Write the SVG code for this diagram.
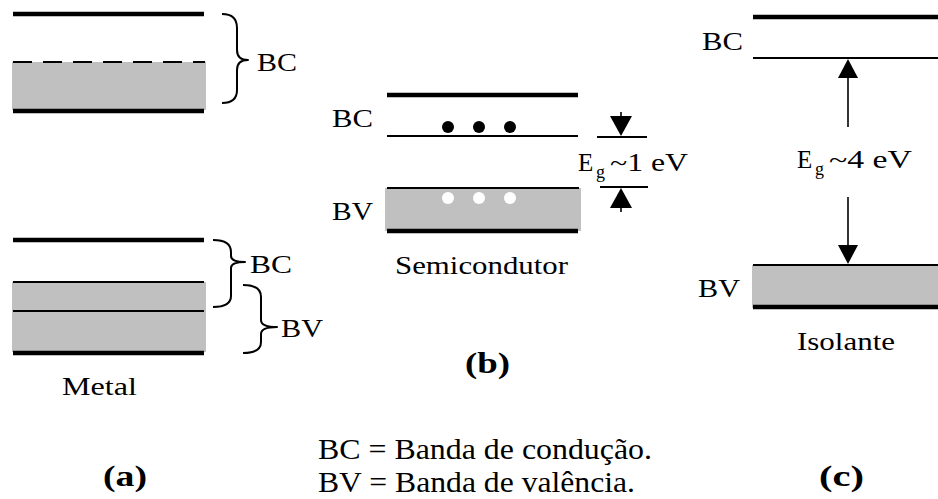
<svg xmlns="http://www.w3.org/2000/svg" width="938" height="499" viewBox="0 0 938 499" font-family="'Liberation Serif', 'Times New Roman', Tinos, Times, serif">
<style>
  text { font-family: 'Liberation Serif', 'Times New Roman', Tinos, Times, serif; fill: #000; }
  .lbl { font-size: 25px; }
  .leg { font-size: 29px; }
  .cap { font-size: 30px; font-weight: bold; }
  .sub { font-size: 18px; }
  .thick { stroke: #000; stroke-width: 4.5; fill: none; }
  .thin { stroke: #000; stroke-width: 2.2; fill: none; }
  .band { fill: #c0c0c0; stroke: none; }
  .brace { stroke: #000; stroke-width: 2; fill: none; stroke-linejoin: round; }
  .conn { stroke: #000; stroke-width: 1.6; fill: none; }
  .head { fill: #000; stroke: none; }
</style>
<rect width="938" height="499" fill="#fff"/>

<g id="metal-upper">
  <rect class="band" x="12" y="62" width="194" height="48"/>
  <line class="thick" x1="13" y1="14" x2="204" y2="14"/>
  <line class="thin" x1="13" y1="62" x2="205" y2="62" stroke-dasharray="19,11"/>
  <line class="thick" x1="13" y1="111" x2="204" y2="111"/>
  <path class="brace" d="M222,14 Q237,14 237,28 L237,50 Q237,60 248,60 Q237,60 237,70 L237,90 Q237,103 222,103"/>
  <text class="lbl" x="257" y="71" textLength="40" lengthAdjust="spacingAndGlyphs">BC</text>
</g>

<g id="metal-lower">
  <rect class="band" x="12" y="282" width="194" height="70"/>
  <line class="thick" x1="13" y1="240" x2="204" y2="240"/>
  <line class="thin" x1="13" y1="282" x2="204" y2="282"/>
  <line class="thin" x1="13" y1="311" x2="204" y2="311"/>
  <line class="thick" x1="13" y1="353" x2="204" y2="353"/>
  <path class="brace" d="M213,240 Q231,240 231,252 L231,256 Q231,262 245,262 Q231,262 231,268 L231,296 Q231,307 213,307"/>
  <text class="lbl" x="250" y="273" textLength="42" lengthAdjust="spacingAndGlyphs">BC</text>
  <path class="brace" d="M243,285 Q261,285 261,297 L261,320 Q261,327 277,327 Q261,327 261,334 L261,342 Q261,353 243,353"/>
  <text class="lbl" x="281" y="337" textLength="42" lengthAdjust="spacingAndGlyphs">BV</text>
  <text class="lbl" x="62" y="395" textLength="75" lengthAdjust="spacingAndGlyphs">Metal</text>
</g>

<g id="semicondutor">
  <rect class="band" x="385" y="188" width="196" height="43"/>
  <line class="thick" x1="387" y1="95" x2="578" y2="95"/>
  <line class="thin" x1="387" y1="136" x2="578" y2="136"/>
  <line class="thin" x1="387" y1="188" x2="579" y2="188"/>
  <line class="thick" x1="387" y1="231" x2="578" y2="231"/>
  <circle cx="448" cy="127" r="6" fill="#000"/>
  <circle cx="479" cy="127" r="6" fill="#000"/>
  <circle cx="510" cy="127" r="6" fill="#000"/>
  <circle cx="448" cy="198" r="6" fill="#fff"/>
  <circle cx="479" cy="198" r="6" fill="#fff"/>
  <circle cx="510" cy="198" r="6" fill="#fff"/>
  <text class="lbl" x="332" y="127" textLength="41" lengthAdjust="spacingAndGlyphs">BC</text>
  <text class="lbl" x="332" y="220" textLength="41" lengthAdjust="spacingAndGlyphs">BV</text>
  <text class="lbl" x="395" y="274" textLength="173" lengthAdjust="spacingAndGlyphs">Semicondutor</text>
  <line class="thin" x1="597" y1="137" x2="647" y2="137" stroke-width="1.6"/>
  <line class="thin" x1="600" y1="187" x2="648" y2="187" stroke-width="1.6"/>
  <text class="lbl" x="578" y="171">E<tspan class="sub" x="596" y="178">g</tspan><tspan x="610" y="171" textLength="78" lengthAdjust="spacingAndGlyphs">~1 eV</tspan></text>
</g>

<g id="isolante">
  <rect class="band" x="752" y="265" width="186" height="43"/>
  <line class="thick" x1="753" y1="17" x2="938" y2="17"/>
  <line class="thin" x1="753" y1="58" x2="938" y2="58"/>
  <line class="thin" x1="753" y1="265" x2="938" y2="265"/>
  <line class="thick" x1="753" y1="307" x2="938" y2="307"/>
  <text class="lbl" x="702" y="50" textLength="41" lengthAdjust="spacingAndGlyphs">BC</text>
  <text class="lbl" x="698" y="297" textLength="42" lengthAdjust="spacingAndGlyphs">BV</text>
  <text class="lbl" x="797" y="350" textLength="98" lengthAdjust="spacingAndGlyphs">Isolante</text>
  <text class="lbl" x="797" y="168">E<tspan class="sub" x="815" y="175">g</tspan><tspan x="829" y="168" textLength="83" lengthAdjust="spacingAndGlyphs">~4 eV</tspan></text>
</g>

<g id="connectors">
  <line class="conn" x1="621" y1="112" x2="621" y2="120"/>
  <polygon class="head" points="610,116 632,116 621,136"/>
  <line class="conn" x1="621" y1="204" x2="621" y2="212"/>
  <polygon class="head" points="610,208 632,208 621,188"/>
  <line class="conn" x1="848" y1="127" x2="848" y2="76"/>
  <polygon class="head" points="838,78 858,78 848,59"/>
  <line class="conn" x1="848" y1="197" x2="848" y2="247"/>
  <polygon class="head" points="838,245 858,245 848,264"/>
</g>

<g id="captions">
  <text class="cap" x="103" y="486" textLength="44" lengthAdjust="spacingAndGlyphs">(a)</text>
  <text class="cap" x="465" y="373" textLength="45" lengthAdjust="spacingAndGlyphs">(b)</text>
  <text class="cap" x="819" y="486" textLength="45" lengthAdjust="spacingAndGlyphs">(c)</text>
  <text class="leg" x="318" y="459" textLength="334" lengthAdjust="spacingAndGlyphs">BC = Banda de condução.</text>
  <text class="leg" x="318" y="492" textLength="317" lengthAdjust="spacingAndGlyphs">BV = Banda de valência.</text>
</g>
</svg>
